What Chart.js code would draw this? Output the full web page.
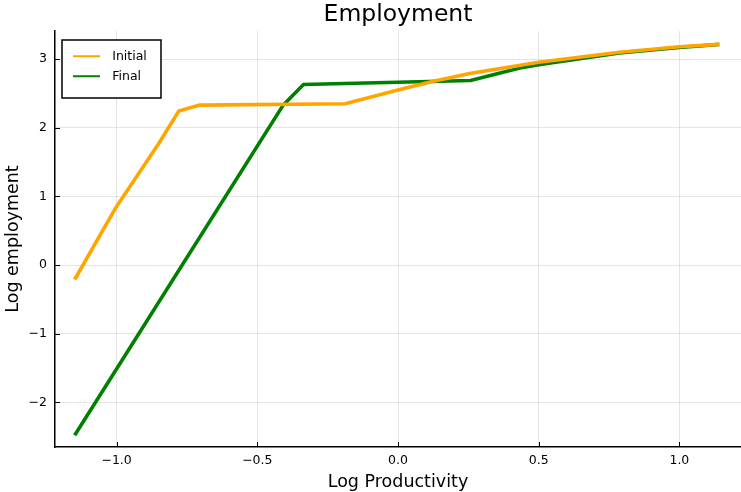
<!DOCTYPE html>
<html>
<head>
<meta charset="utf-8">
<script src="https://cdn.jsdelivr.net/npm/chart.js@4/dist/chart.umd.min.js"></script>
<style>
html,body{margin:0;padding:0;background:#fff;}
#wrap{width:741px;height:492px;}
</style>
</head>
<body>
<div id="wrap"><canvas id="c" width="741" height="492"></canvas></div>
<script>
const titleText = "Employment";
const xLabel = "Log Productivity";
const yLabel = "Log employment";
const seriesNames = ["Initial", "Final"];
const seriesColors = ["#FFA500", "#008000"];

const initialX = [-1.149, -1.004, -0.852, -0.779, -0.705, -0.188, 0.0, 0.13, 0.255, 0.5, 0.787, 1.0, 1.142];
const initialY = [-0.21, 0.83, 1.76, 2.245, 2.33, 2.35, 2.55, 2.68, 2.79, 2.955, 3.10, 3.18, 3.215];

const finalX = [-1.149, -0.408, -0.336, 0.258, 0.433, 0.5, 0.787, 1.0, 1.142];
const finalY = [-2.48, 2.33, 2.63, 2.69, 2.87, 2.92, 3.09, 3.17, 3.215];

const xTicks = [-1.0, -0.5, 0.0, 0.5, 1.0];
const yTicks = [-2, -1, 0, 1, 2, 3];
const xRange = [-1.219, 1.219];
const yRange = [-2.65, 3.41];

const FONT = "'DejaVu Sans', sans-serif";
const minus = s => s.replace('-', '\u2212');

function pts(xs, ys) { return xs.map((x, i) => ({ x: x, y: ys[i] })); }

function legendLine(color) {
  const c = document.createElement('canvas');
  c.width = 33; c.height = 4;
  const g = c.getContext('2d');
  g.strokeStyle = color; g.lineWidth = 2;
  g.beginPath(); g.moveTo(0, 2); g.lineTo(27, 2); g.stroke();
  return c;
}

const framePlugin = {
  id: 'frame',
  afterLayout(chart) {
    const lg = chart.legend, ca = chart.chartArea;
    lg.left = ca.left + 10.5;
    lg.top = ca.top + 11.5;
    lg.right = lg.left + lg.width;
    lg.bottom = lg.top + lg.height;
  },
  afterDraw(chart) {
    const ctx = chart.ctx, ca = chart.chartArea;
    const xs = chart.scales.x, ys = chart.scales.y;
    ctx.save();
    // inward tick marks
    ctx.strokeStyle = '#000'; ctx.lineWidth = 1;
    ctx.beginPath();
    xs.ticks.forEach(t => { const p = Math.round(xs.getPixelForValue(t.value)) + 0.5; ctx.moveTo(p, ca.bottom); ctx.lineTo(p, ca.bottom - 5); });
    ys.ticks.forEach(t => { const p = Math.round(ys.getPixelForValue(t.value)) + 0.5; ctx.moveTo(ca.left, p); ctx.lineTo(ca.left + 5, p); });
    ctx.stroke();
    // legend frame
    const bx = ca.left + 7, by = ca.top + 9, bw = 99, bh = 58;
    ctx.fillStyle = '#fff';
    ctx.fillRect(bx, by, bw, bh);
    ctx.strokeStyle = '#000'; ctx.lineWidth = 1.5;
    ctx.strokeRect(bx, by, bw, bh);
    ctx.restore();
    chart.legend.draw(chart.chartArea);
  }
};

new Chart(document.getElementById('c'), {
  type: 'scatter',
  data: {
    datasets: [
      { label: seriesNames[0], data: pts(initialX, initialY), showLine: true, borderColor: seriesColors[0], backgroundColor: seriesColors[0], borderWidth: 3.6, pointRadius: 0, pointHoverRadius: 0, tension: 0 },
      { label: seriesNames[1], data: pts(finalX, finalY), showLine: true, borderColor: seriesColors[1], backgroundColor: seriesColors[1], borderWidth: 3.6, pointRadius: 0, pointHoverRadius: 0, tension: 0 }
    ]
  },
  options: {
    responsive: false,
    animation: false,
    devicePixelRatio: 1,
    layout: { padding: 0 },
    plugins: {
      tooltip: { enabled: false },
      title: {
        display: true, text: titleText, fullSize: false, color: '#000',
        font: { family: FONT, size: 23.5, weight: 'normal' },
        padding: { top: 1, bottom: 1.8 }
      },
      legend: {
        display: true, position: 'chartArea', align: 'start',
        labels: {
          color: '#000', font: { family: FONT, size: 12.5 }, padding: 7.5,
          usePointStyle: true, pointStyleWidth: 33,
          generateLabels: chart => chart.data.datasets.map((ds, i) => ({
            text: ds.label, fillStyle: ds.borderColor, strokeStyle: ds.borderColor,
            lineWidth: 2, pointStyle: legendLine(ds.borderColor), hidden: false,
            datasetIndex: i, fontColor: '#000'
          }))
        }
      }
    },
    scales: {
      x: {
        type: 'linear', position: 'bottom', min: xRange[0], max: xRange[1],
        afterBuildTicks: s => { s.ticks = xTicks.map(v => ({ value: v })); },
        afterFit: s => { s.height = 45; },
        grid: { color: 'rgba(0,0,0,0.1)', lineWidth: 1, drawTicks: false },
        border: { color: '#000', width: 1.5 },
        ticks: { autoSkip: false, maxRotation: 0, padding: 6, color: '#000', font: { family: FONT, size: 12.5 },
          callback: v => minus(Number(v).toFixed(1)) },
        title: { display: true, text: xLabel, color: '#000', font: { family: FONT, size: 17.5 }, padding: { top: 0, bottom: -1 } }
      },
      y: {
        type: 'linear', position: 'left', min: yRange[0], max: yRange[1],
        afterBuildTicks: s => { s.ticks = yTicks.map(v => ({ value: v })); },
        afterFit: s => { s.width = 55; },
        grid: { color: 'rgba(0,0,0,0.1)', lineWidth: 1, drawTicks: false },
        border: { color: '#000', width: 1.5 },
        ticks: { autoSkip: false, padding: 8, color: '#000', font: { family: FONT, size: 12.5 },
          callback: v => minus(String(v)) },
        title: { display: true, text: yLabel, color: '#000', font: { family: FONT, size: 17.5 }, padding: { top: 3, bottom: 0 } }
      }
    }
  },
  plugins: [framePlugin]
});
</script>
</body>
</html>
